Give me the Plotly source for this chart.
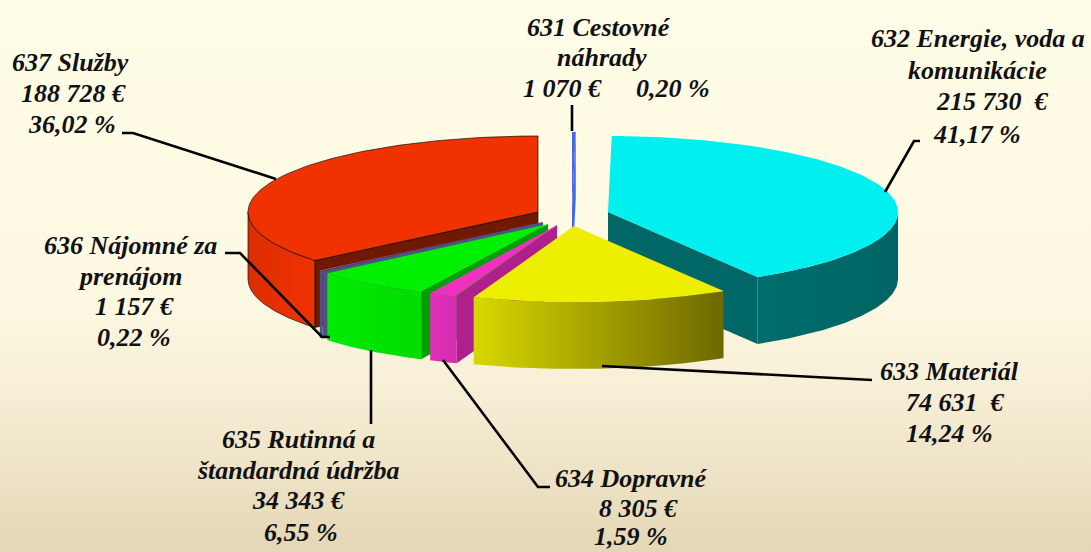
import numpy as np
import plotly.graph_objects as go

W, H = 1091, 552

# ---- data ----
codes = ["631", "632", "633", "634", "635", "636", "637"]
names = ["Cestovné náhrady", "Energie, voda a komunikácie", "Materiál", "Dopravné",
         "Rutinná a štandardná údržba", "Nájomné za prenájom", "Služby"]
values = [1070, 215730, 74631, 8305, 34343, 1157, 188728]
percent_labels = ["0,20 %", "41,17 %", "14,24 %", "1,59 %", "6,55 %", "0,22 %", "36,02 %"]
value_labels = ["1 070 €", "215 730  €", "74 631  €", "8 305 €", "34 343 €", "1 157 €", "188 728 €"]

# ---- layout / style constants ----
RX, RY, DEPTH = 290, 76, 67
apex = {"631": (572, 208), "632": (608, 212), "633": (574, 226), "634": (557, 225),
        "635": (548, 224), "636": (543, 222), "637": (538, 212)}
style = {  # top, wall gradient (left, right), cut face
    "631": ("#4468e8", ("#3050c0", "#3050c0"), "#4468e8"),
    "632": ("#00f0f0", ("#006c6c", "#006464"), "#006666"),
    "633": ("#eeee00", ("#d8d800", "#6e6800"), "#6e6800"),
    "634": ("#f030c0", ("#e030b8", "#d42cb0"), "#b0208c"),
    "635": ("#00f000", ("#00ec00", "#00dc00"), "#00a000"),
    "636": ("#7878d0", ("#505088", "#505088"), "#505088"),
    "637": ("#f03200", ("#dc2e00", "#f03200"), "#701800"),
}
draw_order = ["637", "631", "632", "636", "635", "634", "633"]

text_lines = [
    ("631 Cestovné", 599, 27), ("náhrady", 602, 57), ("1 070 €", 562, 88), ("0,20 %", 673, 88),
    ("632 Energie, voda a", 978, 38), ("komunikácie", 977, 70), ("215 730  €", 992, 101), ("41,17 %", 977, 134),
    ("633 Materiál", 949, 371), ("74 631  €", 955, 402), ("14,24 %", 949, 433),
    ("634 Dopravné", 631, 478), ("8 305 €", 638, 508), ("1,59 %", 631, 536),
    ("635 Rutinná a", 298, 439), ("štandardná údržba", 298, 470), ("34 343 €", 298, 500), ("6,55 %", 301, 532),
    ("636 Nájomné za", 130, 245), ("prenájom", 130, 276), ("1 157 €", 134, 306), ("0,22 %", 134, 337),
    ("637 Služby", 70, 62), ("188 728 €", 73, 93), ("36,02 %", 72, 124),
]
leaders = [
    ([572, 572], [105, 131]),
    ([920, 914, 885], [141, 141, 192]),
    ([602, 860, 872], [366, 380, 380]),
    ([443, 538, 550], [360, 487, 487]),
    ([371, 371], [350, 424]),
    ([225, 240, 322, 330], [253, 253, 337, 337]),
    ([122, 133, 276], [133, 133, 179]),
]

# ---- geometry derived from the values ----
total = sum(values)
edges = np.concatenate([[0], np.cumsum(values)]) / total * 360.0
span = {c: (edges[i], edges[i + 1]) for i, c in enumerate(codes)}


def rim(c, a, dz=0):
    cx, cy = apex[c]
    t = np.radians(a)
    return cx + RX * np.sin(t), cy - RY * np.cos(t) + dz


fig = go.Figure()


def poly(xs, ys, color=None, grad=None, line=None):
    kw = dict(x=list(xs), y=list(ys), mode="lines", fill="toself", hoverinfo="skip",
              showlegend=False, line=dict(width=line or 0, color="#101010"))
    if grad:
        kw["fillgradient"] = dict(type="horizontal", colorscale=[[0, grad[0]], [1, grad[1]]])
    else:
        kw["fillcolor"] = color
    fig.add_trace(go.Scatter(**kw))


# background
poly([0, W, W, 0, 0], [0, 0, H, H, 0], "#fffbe4")
fig.data[-1].update(fillcolor=None, fillgradient=dict(
    type="vertical",
    colorscale=[[0, "#e4d7b6"], [0.3, "#f7efd6"], [0.45, "#fdf8e2"], [0.75, "#fffbe4"], [1, "#fffde8"]]))

for c in draw_order:
    a0, a1 = span[c]
    top, grad, cut = style[c]
    cx, cy = apex[c]
    outline = 0.7 if c == "637" else None
    # radial cut faces
    if 180 < a0 < 360:
        x, y = rim(c, a0)
        poly([cx, x, x, cx, cx], [cy, y, y + DEPTH, cy + DEPTH, cy], cut, line=outline)
    if 0 < a1 < 180:
        x, y = rim(c, a1)
        poly([cx, x, x, cx, cx], [cy, y, y + DEPTH, cy + DEPTH, cy], cut, line=outline)
    # outer wall
    lo, hi = max(a0, 90), min(a1, 270)
    if hi > lo:
        t = np.linspace(lo, hi, 80)
        xt, yt = rim(c, t)
        xs = np.concatenate([xt, xt[::-1], xt[:1]])
        ys = np.concatenate([yt, (yt + DEPTH)[::-1], yt[:1]])
        poly(xs, ys, grad=grad, line=outline)
    # top face
    t = np.linspace(a0, a1, 120)
    xt, yt = rim(c, t)
    poly(np.concatenate([[cx], xt, [cx]]), np.concatenate([[cy], yt, [cy]]), top, line=outline)

for lx, ly in leaders:
    fig.add_trace(go.Scatter(x=lx, y=ly, mode="lines", hoverinfo="skip", showlegend=False,
                             line=dict(color="#000000", width=2.6)))

for txt, x, y in text_lines:
    fig.add_annotation(x=x, y=y, text=txt, showarrow=False, xanchor="center", yanchor="middle",
                       font=dict(family="Liberation Serif", size=26, color="#111111",
                                 style="italic", weight="bold"))

fig.update_layout(width=W, height=H, margin=dict(l=0, r=0, t=0, b=0), autosize=False,
                  paper_bgcolor="#fffbe4", plot_bgcolor="#fffbe4",
                  xaxis=dict(visible=False, range=[0, W], fixedrange=True),
                  yaxis=dict(visible=False, range=[H, 0], fixedrange=True))
fig.write_html("out.html", config={"displayModeBar": False},
               post_script="document.body.style.margin='0';document.body.style.overflow='hidden';")
